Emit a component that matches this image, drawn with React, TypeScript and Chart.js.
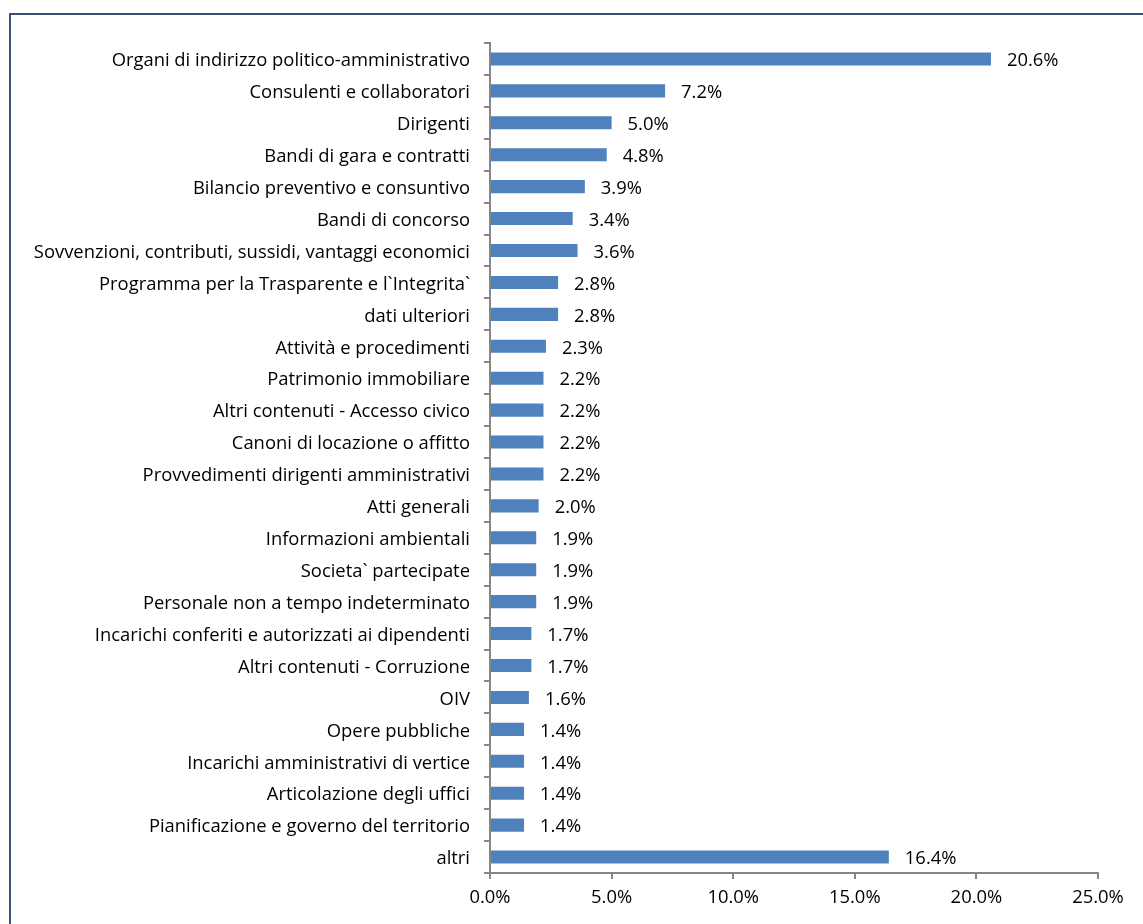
import React, { useEffect, useRef } from "react";
import { Chart, registerables } from "chart.js";

Chart.register(...registerables);

const categories: string[] = [
  "Organi di indirizzo politico-amministrativo",
  "Consulenti e collaboratori",
  "Dirigenti",
  "Bandi di gara e contratti",
  "Bilancio preventivo e consuntivo",
  "Bandi di concorso",
  "Sovvenzioni, contributi, sussidi, vantaggi economici",
  "Programma per la Trasparente e l`Integrita`",
  "dati ulteriori",
  "Attività e procedimenti",
  "Patrimonio immobiliare",
  "Altri contenuti - Accesso civico",
  "Canoni di locazione o affitto",
  "Provvedimenti dirigenti amministrativi",
  "Atti generali",
  "Informazioni ambientali",
  "Societa` partecipate",
  "Personale non a tempo indeterminato",
  "Incarichi conferiti e autorizzati ai dipendenti",
  "Altri contenuti - Corruzione",
  "OIV",
  "Opere pubbliche",
  "Incarichi amministrativi di vertice",
  "Articolazione degli uffici",
  "Pianificazione e governo del territorio",
  "altri",
];

const values: number[] = [
  20.6, 7.2, 5.0, 4.8, 3.9, 3.4, 3.6, 2.8, 2.8, 2.3, 2.2, 2.2, 2.2, 2.2, 2.0,
  1.9, 1.9, 1.9, 1.7, 1.7, 1.6, 1.4, 1.4, 1.4, 1.4, 16.4,
];

const xTicks: number[] = [0, 5, 10, 15, 20, 25];

const FONT = "'Open Sans', 'Noto Sans', sans-serif";
const FONT_SIZE = 18.4;

const valueLabels = {
  id: "valueLabels",
  afterDatasetsDraw(chart: any) {
    const ctx = chart.ctx;
    const meta = chart.getDatasetMeta(0);
    ctx.save();
    ctx.font = `${FONT_SIZE}px ${FONT}`;
    ctx.fillStyle = "#000000";
    ctx.textAlign = "left";
    ctx.textBaseline = "middle";
    meta.data.forEach((bar: any, i: number) => {
      ctx.fillText(values[i].toFixed(1) + "%", bar.x + 16, bar.y + 2);
    });
    ctx.restore();
  },
};

export default function App() {
  const ref = useRef<HTMLCanvasElement>(null);
  useEffect(() => {
    if (!ref.current) return;
    const chart = new Chart(ref.current, {
      type: "bar",
      data: {
        labels: categories,
        datasets: [
          {
            data: values,
            backgroundColor: "#4F81BD",
            borderWidth: 0,
            barPercentage: 0.41,
            categoryPercentage: 1,
          },
        ],
      },
      options: {
        indexAxis: "y",
        animation: false,
        responsive: false,
        maintainAspectRatio: false,
        layout: { padding: { top: 43, right: 45, left: 0, bottom: 0 } },
        plugins: {
          legend: { display: false },
          tooltip: { enabled: false },
        },
        scales: {
          x: {
            min: 0,
            max: 25,
            afterBuildTicks: (axis: any) => {
              axis.ticks = xTicks.map((v) => ({ value: v }));
            },
            afterFit: (axis: any) => {
              axis.height = 51;
            },
            grid: {
              drawOnChartArea: false,
              drawTicks: true,
              tickLength: 6,
              color: "#868686",
              lineWidth: 2,
            },
            border: { display: true, color: "#868686", width: 2 },
            ticks: {
              padding: 8,
              color: "#000000",
              font: { family: FONT, size: FONT_SIZE },
              callback: (v: any) => Number(v).toFixed(1) + "%",
            },
          },
          y: {
            afterFit: (axis: any) => {
              axis.width = 490;
            },
            grid: {
              drawOnChartArea: false,
              drawTicks: true,
              tickLength: 6,
              color: "#868686",
              lineWidth: 2,
              offset: true,
            },
            border: { display: true, color: "#868686", width: 2 },
            ticks: {
              padding: 14,
              labelOffset: 2,
              color: "#000000",
              font: { family: FONT, size: FONT_SIZE },
              autoSkip: false,
            },
          },
        },
      },
      plugins: [valueLabels],
    });
    return () => chart.destroy();
  }, []);

  return (
    <div
      style={{
        position: "fixed",
        left: 0,
        top: 0,
        width: 1143,
        height: 924,
        overflow: "hidden",
        background: "#ffffff",
      }}
    >
      <div
        style={{
          position: "absolute",
          left: 9,
          top: 13,
          width: 1200,
          height: 1000,
          border: "2px solid #3B5275",
          boxSizing: "border-box",
        }}
      />
      <canvas
        ref={ref}
        width={1143}
        height={924}
        style={{ position: "absolute", left: 0, top: 0, width: 1143, height: 924 }}
      />
    </div>
  );
}
